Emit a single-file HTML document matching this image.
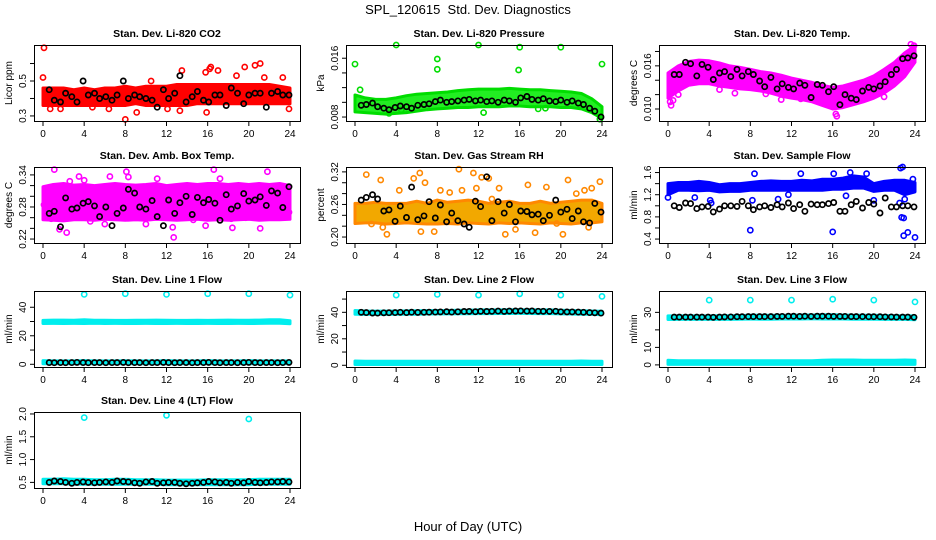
<!DOCTYPE html>
<html><head><meta charset="utf-8">
<style>
body{margin:0;background:#fff;}
svg{display:block;font-family:"Liberation Sans",sans-serif;}
</style></head>
<body>
<svg id="c" width="936" height="540" viewBox="0 0 936 540" xmlns="http://www.w3.org/2000/svg">
<rect width="936" height="540" fill="#fff"/>
<text x="468" y="14" text-anchor="middle" font-size="13" style="white-space:pre">SPL_120615  Std. Dev. Diagnostics</text>
<text x="468" y="531" text-anchor="middle" font-size="13">Hour of Day (UTC)</text>
</svg>
<script>
// shared hours for black (reference) points
const blackHours = [0.6,1.1,1.7,2.2,2.8,3.3,3.9,4.4,5.0,5.5,6.1,6.7,7.2,7.8,8.3,8.9,9.4,10.0,10.6,11.1,11.7,12.2,12.8,13.3,13.9,14.5,15.0,15.6,16.1,16.7,17.2,17.8,18.3,18.9,19.5,20.0,20.6,21.1,21.7,22.2,22.8,23.3,23.9];
const bandHours = [0,1,2,3,4,5,6,7,8,9,10,11,12,13,14,15,16,17,18,19,20,21,22,23,24];
const xTicks = [0,4,8,12,16,20,24];

// Panel 1: CO2
const co2Lo = [0.36,0.36,0.36,0.36,0.36,0.36,0.36,0.36,0.36,0.37,0.36,0.36,0.36,0.36,0.36,0.37,0.37,0.37,0.37,0.37,0.37,0.37,0.37,0.37,0.37];
const co2Hi = [0.46,0.46,0.46,0.45,0.46,0.45,0.46,0.46,0.47,0.46,0.47,0.47,0.47,0.48,0.48,0.48,0.48,0.48,0.48,0.48,0.48,0.48,0.48,0.47,0.46];
const co2OutX = [0.1,0,0.7,1.7,8,9.1,10.5,13.5,13.3,15.8,16.2,16.3,17,15.9,19.6,20.6,21.1,21.5,23.3,23.9,18.8,12.1,4.8,6.4];
const co2OutY = [0.69,0.52,0.34,0.34,0.28,0.32,0.50,0.56,0.33,0.55,0.57,0.58,0.56,0.32,0.58,0.59,0.60,0.52,0.52,0.34,0.53,0.34,0.35,0.34];
const co2Black = [0.45,0.39,0.38,0.43,0.41,0.38,0.50,0.42,0.43,0.40,0.41,0.39,0.42,0.50,0.40,0.42,0.41,0.40,0.39,0.35,0.45,0.40,0.43,0.53,0.38,0.41,0.44,0.39,0.38,0.42,0.42,0.36,0.46,0.43,0.37,0.42,0.43,0.43,0.35,0.43,0.44,0.42,0.42];

// Panel 2: Pressure
const prLo = [0.0087,0.0086,0.0085,0.0084,0.0085,0.0086,0.0088,0.0090,0.0091,0.0092,0.0093,0.0093,0.0094,0.0094,0.0094,0.0095,0.0095,0.0094,0.0094,0.0094,0.0093,0.0093,0.0091,0.0086,0.0078];
const prHi = [0.0110,0.0106,0.0104,0.0104,0.0106,0.0109,0.0111,0.0112,0.0113,0.0114,0.0116,0.0117,0.0118,0.0118,0.0118,0.0119,0.0118,0.0117,0.0117,0.0116,0.0115,0.0114,0.0112,0.0105,0.0094];
const prOutX = [0,4,8,8,12,16,15.9,20,24,0.5,3.3,4.5,12.5,17.8,18.5,23.8];
const prOutY = [0.0152,0.0178,0.0159,0.0145,0.0178,0.0175,0.0144,0.0175,0.0152,0.0117,0.0085,0.0090,0.0086,0.0091,0.0092,0.0077];
const prBlack = [0.0096,0.0097,0.0099,0.0094,0.0092,0.0090,0.0093,0.0095,0.0094,0.0092,0.0096,0.0097,0.0098,0.0101,0.0103,0.0100,0.0101,0.0102,0.0103,0.0104,0.0102,0.0103,0.0101,0.0102,0.0100,0.0103,0.0102,0.0100,0.0106,0.0108,0.0104,0.0103,0.0105,0.0102,0.0101,0.0103,0.0100,0.0102,0.0099,0.0097,0.0092,0.0088,0.0080];

// Panel 3: Li-820 Temp
const ltLo = [0.0115,0.0125,0.0133,0.0135,0.0135,0.0132,0.0130,0.0128,0.0127,0.0125,0.0122,0.0118,0.0115,0.0113,0.0110,0.0105,0.0100,0.0102,0.0106,0.0110,0.0115,0.0122,0.0132,0.0145,0.0165];
const ltHi = [0.0150,0.0160,0.0166,0.0168,0.0167,0.0164,0.0160,0.0158,0.0155,0.0152,0.0150,0.0147,0.0143,0.0140,0.0137,0.0133,0.0130,0.0132,0.0136,0.0140,0.0146,0.0155,0.0165,0.0178,0.0188];
const ltOutX = [0.2,0.3,0.5,1.0,5.0,6.5,9.5,11.0,12.9,14.5,16.4,16.3,18.5,21.0,23.6,23.9];
const ltOutY = [0.0110,0.0105,0.0112,0.0120,0.0127,0.0122,0.0121,0.0113,0.0114,0.0117,0.0090,0.0093,0.0116,0.0117,0.0190,0.0188];
const ltBlack = [0.0148,0.0148,0.0165,0.0163,0.0146,0.0162,0.0158,0.0141,0.0150,0.0152,0.0145,0.0155,0.0146,0.0152,0.0148,0.0139,0.0131,0.0144,0.0128,0.0135,0.0130,0.0128,0.0136,0.0133,0.0116,0.0134,0.0133,0.0124,0.0131,0.0106,0.0120,0.0115,0.0113,0.0125,0.0130,0.0128,0.0132,0.0138,0.0148,0.0155,0.0170,0.0171,0.0174];

// Panel 4: Amb Box Temp
const abLo = [0.256,0.255,0.254,0.256,0.256,0.255,0.257,0.256,0.255,0.256,0.255,0.257,0.256,0.255,0.256,0.257,0.255,0.256,0.255,0.256,0.257,0.255,0.256,0.256,0.257];
const abHi = [0.318,0.322,0.324,0.321,0.322,0.320,0.322,0.324,0.322,0.321,0.322,0.324,0.320,0.322,0.324,0.322,0.324,0.324,0.322,0.324,0.322,0.324,0.322,0.324,0.320];
const abOutX = [0.1,0.8,1.1,1.6,2.3,2.6,3.5,4.0,4.6,6.0,8.1,8.3,10.0,11.1,12.7,12.6,13.5,14.6,16.6,17.2,18.4,18.3,19.7,21.1,21.8,23.9,6.5,15.8];
const abOutY = [0.284,0.258,0.350,0.238,0.232,0.328,0.337,0.330,0.253,0.248,0.346,0.336,0.248,0.333,0.223,0.242,0.305,0.256,0.350,0.333,0.241,0.258,0.260,0.240,0.346,0.270,0.337,0.245];
const abBlack = [0.268,0.272,0.243,0.297,0.276,0.278,0.287,0.290,0.282,0.262,0.280,0.245,0.268,0.278,0.313,0.306,0.280,0.276,0.292,0.262,0.245,0.293,0.268,0.288,0.300,0.266,0.298,0.288,0.294,0.287,0.255,0.303,0.276,0.282,0.305,0.291,0.293,0.299,0.283,0.310,0.306,0.279,0.318];

// Panel 5: Gas Stream RH
const rhLo = [0.225,0.226,0.226,0.224,0.225,0.226,0.225,0.224,0.224,0.225,0.224,0.226,0.225,0.224,0.226,0.225,0.226,0.225,0.224,0.226,0.225,0.224,0.226,0.226,0.228];
const rhHi = [0.262,0.262,0.264,0.262,0.262,0.262,0.266,0.262,0.268,0.264,0.266,0.268,0.266,0.262,0.264,0.266,0.262,0.262,0.266,0.262,0.264,0.266,0.268,0.268,0.262];
const rhOutX = [1.1,1.6,2.5,2.7,3.1,4.3,5.7,6.3,6.4,6.8,7.7,8.3,9.4,10.1,10.4,11.5,11.8,12.3,13.0,13.3,14.6,15.6,16.8,17.5,18.6,19.6,20.2,20.7,21.5,22.3,22.7,23.8,23.0,14.0,9.2];
const rhOutY = [0.315,0.224,0.305,0.218,0.205,0.286,0.308,0.318,0.210,0.300,0.210,0.286,0.230,0.325,0.286,0.318,0.290,0.310,0.308,0.270,0.205,0.214,0.296,0.208,0.292,0.225,0.205,0.305,0.280,0.286,0.218,0.302,0.290,0.290,0.282];
const rhBlack = [0.268,0.273,0.278,0.270,0.248,0.250,0.229,0.257,0.236,0.292,0.232,0.239,0.265,0.235,0.259,0.228,0.244,0.230,0.224,0.218,0.266,0.256,0.311,0.230,0.265,0.244,0.260,0.228,0.248,0.247,0.241,0.242,0.230,0.240,0.268,0.246,0.251,0.234,0.248,0.228,0.226,0.262,0.246];

// Panel 6: Sample Flow
const sfLo = [1.20,1.28,1.28,1.27,1.28,1.25,1.26,1.26,1.28,1.28,1.28,1.28,1.28,1.28,1.28,1.28,1.30,1.30,1.32,1.32,1.26,1.28,1.28,1.20,1.25];
const sfHi = [1.40,1.42,1.42,1.44,1.42,1.38,1.40,1.40,1.42,1.44,1.45,1.44,1.44,1.46,1.45,1.48,1.48,1.50,1.54,1.52,1.40,1.44,1.46,1.46,1.42];
const sfOutX = [0,2.6,4.1,4.2,8,8.2,8.4,11.7,10.7,12.9,16,16.1,17.3,17.7,19.3,20,22.6,22.8,22.7,22.9,22.9,23.3,24,23.0,22.5,23.8];
const sfOutY = [1.15,1.15,1.10,1.05,0.56,1.10,1.58,1.20,1.12,1.58,0.53,1.58,1.18,1.60,1.58,1.10,1.68,1.70,0.79,0.78,0.46,0.52,0.43,1.12,1.05,1.48];
const sfBlack = [1.00,0.97,1.05,1.04,0.95,0.98,0.99,0.89,0.94,1.00,1.00,0.99,1.08,1.00,0.93,0.98,1.00,0.97,1.02,0.98,1.05,0.95,1.02,0.90,1.03,1.02,1.02,1.04,1.06,0.90,0.90,1.02,1.08,0.96,1.06,1.03,0.87,1.14,0.98,0.98,1.00,1.00,0.98];

// Panel 7: Line 1 Flow
const l1Lo = [28.6,28.7,28.6,28.7,28.6,28.8,28.6,28.7,28.6,28.6,28.7,28.6,28.6,28.7,28.6,28.6,28.7,28.6,28.6,28.7,28.6,28.7,28.8,28.8,28.4];
const l1Hi = [30.8,31.0,31.0,30.9,31.3,30.9,30.9,30.8,30.8,30.9,30.9,31.0,30.9,30.8,30.8,30.9,30.8,30.9,31.0,30.9,30.9,31.0,31.2,31.2,30.6];
const l1LowLo = [0.4,0.4,0.4,0.4,0.4,0.4,0.4,0.4,0.4,0.4,0.4,0.4,0.4,0.4,0.4,0.4,0.4,0.4,0.4,0.4,0.4,0.4,0.4,0.4,0.4];
const l1LowHi = [2.6,2.4,2.4,2.4,2.6,2.4,2.4,2.4,2.5,2.4,2.4,2.4,2.6,2.4,2.4,2.4,2.6,2.4,2.4,2.4,2.6,2.4,2.4,2.4,2.4];
const l1OutX = [4,8,12,16,20,24];
const l1OutY = [49,49.5,49,49.5,49.5,48.5];
const l1Black = [1.2,1.1,1.2,1.1,1.2,1.3,1.2,1.1,1.2,1.2,1.1,1.2,1.2,1.3,1.1,1.2,1.2,1.1,1.2,1.2,1.3,1.2,1.1,1.2,1.2,1.1,1.2,1.2,1.3,1.2,1.1,1.2,1.2,1.1,1.2,1.3,1.2,1.1,1.2,1.2,1.1,1.2,1.3];

// Panel 8: Line 2 Flow
const l2Lo = [38.6,38.4,38.5,38.4,38.5,38.6,38.6,38.7,38.8,38.8,38.9,38.9,39.0,39.0,39.1,39.1,39.2,39.1,39.0,39.0,38.8,38.7,38.6,38.5,38.2];
const l2Hi = [41.4,41.0,40.9,40.9,41.0,41.1,41.2,41.3,41.4,41.4,41.6,41.6,41.8,41.8,41.8,42.0,42.0,41.9,41.8,41.8,41.6,41.4,41.2,41.0,40.8];
const l2LowLo = [0.6,0.6,0.6,0.6,0.6,0.6,0.6,0.6,0.6,0.6,0.6,0.6,0.6,0.6,0.6,0.6,0.6,0.6,0.6,0.6,0.6,0.6,0.6,0.6,0.6];
const l2LowHi = [3.2,3.0,3.0,3.0,3.0,3.0,3.0,3.0,3.0,3.0,3.0,3.0,3.0,3.0,3.0,3.0,3.0,3.0,3.0,3.0,3.0,3.0,3.2,3.0,3.0];
const l2OutX = [4,8,12,16,20,24];
const l2OutY = [53,53.5,53,54,53,52];
const l2Black = [40.0,39.8,39.5,39.4,39.6,39.7,39.8,40.0,39.8,40.1,39.9,40.0,40.1,40.2,40.3,40.5,40.2,40.4,40.6,40.7,40.5,40.8,40.6,40.8,40.9,40.7,40.9,41.0,41.1,40.9,41.0,40.8,40.8,40.7,40.8,40.4,40.3,40.3,40.2,40.0,39.8,39.6,39.4];

// Panel 9: Line 3 Flow
const l3Lo = [25.9,26.0,26.1,26.0,26.0,26.1,26.0,26.1,26.2,26.1,26.1,26.2,26.2,26.2,26.3,26.2,26.2,26.2,26.1,26.1,26.1,26.0,26.0,26.0,25.8];
const l3Hi = [28.0,28.0,28.1,28.0,28.0,28.1,28.1,28.2,28.3,28.3,28.4,28.4,28.4,28.5,28.5,28.6,28.6,28.5,28.4,28.4,28.3,28.2,28.1,28.1,28.0];
const l3LowLo = [0.3,0.3,0.3,0.3,0.3,0.3,0.3,0.3,0.3,0.3,0.3,0.3,0.3,0.3,0.3,0.3,0.3,0.3,0.3,0.3,0.3,0.3,0.3,0.3,0.3];
const l3LowHi = [2.6,2.4,2.4,2.4,2.4,2.4,2.4,2.4,2.4,2.4,2.4,2.4,2.4,2.4,2.4,2.6,2.8,2.8,2.8,2.6,2.6,2.6,2.6,2.8,2.6];
const l3OutX = [4,8,12,16,20,24];
const l3OutY = [37,37,37,37.5,37,36];
const l3Black = [27.3,27.3,27.3,27.3,27.3,27.3,27.3,27.2,27.3,27.4,27.4,27.5,27.5,27.6,27.6,27.6,27.6,27.6,27.7,27.7,27.8,27.8,27.7,27.8,27.7,27.8,27.8,27.8,27.7,27.7,27.7,27.6,27.6,27.6,27.5,27.5,27.5,27.4,27.4,27.3,27.3,27.3,27.2];

// Panel 10: Line 4 Flow
const l4Lo = [0.47,0.47,0.47,0.46,0.46,0.46,0.46,0.46,0.46,0.46,0.46,0.46,0.45,0.45,0.45,0.45,0.45,0.45,0.45,0.45,0.45,0.46,0.46,0.46,0.46];
const l4Hi = [0.57,0.57,0.58,0.57,0.57,0.56,0.56,0.57,0.57,0.56,0.56,0.56,0.55,0.55,0.55,0.55,0.56,0.56,0.56,0.56,0.56,0.57,0.57,0.57,0.57];
const l4OutX = [4,12,20];
const l4OutY = [1.92,1.97,1.89];
const l4Black = [0.50,0.53,0.52,0.50,0.48,0.50,0.51,0.50,0.49,0.50,0.51,0.50,0.53,0.52,0.51,0.49,0.48,0.51,0.52,0.48,0.49,0.50,0.50,0.48,0.47,0.48,0.49,0.50,0.52,0.51,0.49,0.50,0.48,0.50,0.49,0.52,0.50,0.49,0.50,0.51,0.51,0.52,0.51];

const NS = 'http://www.w3.org/2000/svg';
const svg = document.getElementById('c');
function mk(tag, attrs, parent){ const e=document.createElementNS(NS,tag); for(const k in attrs) e.setAttribute(k,attrs[k]); (parent||svg).appendChild(e); return e; }

const colL=[34,346,659], rowT=[45,167,291,412], W=266, H=76;
const panels = [
 {name:'co2',title:'Stan. Dev. Li-820 CO2',yt:'Licor ppm',c:0,r:0,ylim:[0.271,0.706],ticks:[0.3,0.4,0.5,0.6],labs:['0.3','','0.5',''],col:'#ff0000',fill:'#ff0000',bands:[[co2Lo,co2Hi]],ox:co2OutX,oy:co2OutY,bk:co2Black},
 {name:'pressure',title:'Stan. Dev. Li-820 Pressure',yt:'kPa',c:1,r:0,ylim:[0.00746,0.0178],ticks:[0.008,0.010,0.012,0.014,0.016],labs:['0.008','','','','0.016'],col:'#00dd00',fill:'#22ee22',bands:[[prLo,prHi]],ox:prOutX,oy:prOutY,bk:prBlack},
 {name:'li820-temp',title:'Stan. Dev. Li-820 Temp.',yt:'degrees C',c:2,r:0,ylim:[0.00833,0.0189],ticks:[0.010,0.012,0.014,0.016,0.018],labs:['0.010','','','0.016',''],col:'#ff00ff',fill:'#ff00ff',bands:[[ltLo,ltHi]],ox:ltOutX,oy:ltOutY,bk:ltBlack},
 {name:'amb-box-temp',title:'Stan. Dev. Amb. Box Temp.',yt:'degrees C',c:0,r:1,ylim:[0.2126,0.3548],ticks:[0.22,0.24,0.26,0.28,0.30,0.32,0.34],labs:['0.22','','','0.28','','','0.34'],col:'#ff00ff',fill:'#ff00ff',bands:[[abLo,abHi]],ox:abOutX,oy:abOutY,bk:abBlack},
 {name:'gas-stream-rh',title:'Stan. Dev. Gas Stream RH',yt:'percent',c:1,r:1,ylim:[0.189,0.329],ticks:[0.20,0.22,0.24,0.26,0.28,0.30,0.32],labs:['0.20','','','0.26','','','0.32'],col:'#ff8800',fill:'#f2a800',bands:[[rhLo,rhHi]],ox:rhOutX,oy:rhOutY,bk:rhBlack},
 {name:'sample-flow',title:'Stan. Dev. Sample Flow',yt:'ml/min',c:2,r:1,ylim:[0.329,1.70],ticks:[0.4,0.6,0.8,1.0,1.2,1.4,1.6],labs:['0.4','','0.8','','1.2','','1.6'],col:'#0000ff',fill:'#0000ff',bands:[[sfLo,sfHi]],ox:sfOutX,oy:sfOutY,bk:sfBlack},
 {name:'line1-flow',title:'Stan. Dev. Line 1 Flow',yt:'ml/min',c:0,r:2,ylim:[-1.9,51.4],ticks:[0,10,20,30,40],labs:['0','','20','','40'],col:'#00eeee',fill:'#00f0f0',bands:[[l1Lo,l1Hi],[l1LowLo,l1LowHi]],ox:l1OutX,oy:l1OutY,bk:l1Black},
 {name:'line2-flow',title:'Stan. Dev. Line 2 Flow',yt:'ml/min',c:1,r:2,ylim:[-1.3,56.1],ticks:[0,10,20,30,40,50],labs:['0','','20','','40',''],col:'#00eeee',fill:'#00f0f0',bands:[[l2Lo,l2Hi],[l2LowLo,l2LowHi]],ox:l2OutX,oy:l2OutY,bk:l2Black},
 {name:'line3-flow',title:'Stan. Dev. Line 3 Flow',yt:'ml/min',c:2,r:2,ylim:[-1.2,42.2],ticks:[0,10,20,30],labs:['0','10','','30'],col:'#00eeee',fill:'#00f0f0',bands:[[l3Lo,l3Hi],[l3LowLo,l3LowHi]],ox:l3OutX,oy:l3OutY,bk:l3Black},
 {name:'line4-flow',title:'Stan. Dev. Line 4 (LT) Flow',yt:'ml/min',c:0,r:3,ylim:[0.377,2.043],ticks:[0.5,1.0,1.5,2.0],labs:['0.5','1.0','1.5','2.0'],col:'#00eeee',fill:'#00f0f0',bands:[[l4Lo,l4Hi]],ox:l4OutX,oy:l4OutY,bk:l4Black}
];

panels.forEach(p=>{
  const L=colL[p.c], T=rowT[p.r], R=L+W, B=T+H;
  const xs = v => L+9 + v*(W-19)/24;
  const ys = v => B - (v-p.ylim[0])/(p.ylim[1]-p.ylim[0])*H;
  const g = mk('g',{});
  
  
  const t = mk('text',{x:(L+R)/2,y:T-8,'text-anchor':'middle','font-size':'10.5','font-weight':'bold'},g);
  t.textContent=p.title;
  
  
  p.bands.forEach((bd,bi)=>{
    let d='';
    bandHours.forEach((h,i)=>{ d+=(i?'L':'M')+xs(h).toFixed(1)+','+ys(bd[1][i]).toFixed(1); });
    for(let i=bandHours.length-1;i>=0;i--) d+='L'+xs(bandHours[i]).toFixed(1)+','+ys(bd[0][i]).toFixed(1);
    const pa=mk('path',{d:d+'Z',fill:p.fill,stroke:p.col,'stroke-width':'3','stroke-linejoin':'round'},g);
    
    
  });
  p.ox.forEach((x,i)=>{
    const ci=mk('circle',{cx:xs(x).toFixed(1),cy:ys(p.oy[i]).toFixed(1),r:2.6,fill:'none',stroke:p.col,'stroke-width':1.6},g);
    
    
  });
  p.bk.forEach((v,i)=>{
    const ci=mk('circle',{cx:xs(blackHours[i]).toFixed(1),cy:ys(v).toFixed(1),r:2.6,fill:'none',stroke:'#000','stroke-width':1.7},g);
    
    
  });
  const bx=mk('rect',{x:L+0.5,y:T+0.5,width:W,height:H,fill:'none',stroke:'#000','stroke-width':1},g);
  
  
  xTicks.forEach(v=>{
    const x=xs(v);
    mk('line',{x1:x,y1:B+1,x2:x,y2:B+5,stroke:'#000'},g);
    const tl=mk('text',{x:x,y:B+16,'text-anchor':'middle','font-size':'10'},g);
    tl.textContent=v;
    
    
  });
  p.ticks.forEach((v,i)=>{
    const y=ys(v);
    mk('line',{x1:L-4,y1:y,x2:L,y2:y,stroke:'#000'},g);
    if(p.labs[i]){
      const tl=mk('text',{x:0,y:0,'text-anchor':'middle','font-size':'10',transform:`translate(${L-8},${y}) rotate(-90)`},g);
      tl.textContent=p.labs[i];
      
      
    }
  });
  const yt=mk('text',{x:0,y:0,'text-anchor':'middle','font-size':'10',transform:`translate(${L-22},${(T+B)/2}) rotate(-90)`},g);
  yt.textContent=p.yt;
  
  
});
</script>
</body></html>
